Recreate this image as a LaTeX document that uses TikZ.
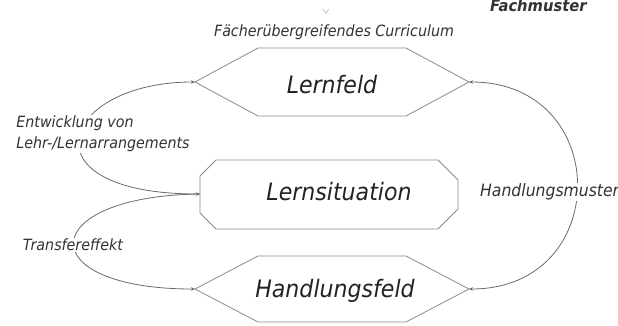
\documentclass[tikz,border=0pt]{standalone}
\usepackage{fontspec}
\newfontfamily\labfont[FakeStretch=0.92]{DejaVu Sans}
\usetikzlibrary{arrows.meta}
\definecolor{txt}{HTML}{333333}
\definecolor{bigtxt}{HTML}{222222}
\definecolor{shp}{HTML}{8A8A8A}
\definecolor{con}{HTML}{6A6A6A}
\tikzset{
  biglab/.style={font=\labfont\itshape\fontsize{24}{28}\selectfont, text=bigtxt},
  smalllab/.style={font=\labfont\itshape\fontsize{15.5}{21}\selectfont, text=txt, fill=white, inner sep=1pt, align=left},
  shapeline/.style={draw=shp, line width=0.8pt, line join=miter},
  conn/.style={draw=con, line width=0.8pt},
  tipb/.style={{Stealth[length=4pt,width=3.5pt]}-{Stealth[length=4pt,width=3.5pt]}},
  tipe/.style={-{Stealth[length=4pt,width=3.5pt]}},
}
\begin{document}
\begin{tikzpicture}[x=1pt,y=-1pt]
\useasboundingbox (0,0) rectangle (618,325);
% anchor points of the shapes
\coordinate (lfW) at (195,82);
\coordinate (lfE) at (469,82);
\coordinate (lsW) at (200,194);
\coordinate (lsE) at (458,194);
\coordinate (hfW) at (195,289);
\coordinate (hfE) at (469,289);
% shapes
\draw[shapeline] (lfW) -- (258,48) -- (406,48) -- (lfE) -- (406,116) -- (258,116) -- cycle;
\draw[shapeline] (200,176) -- (216,160) -- (438,160) -- (458,180) -- (458,209) -- (438,229) -- (216,229) -- (200,213) -- cycle;
\draw[shapeline] (hfW) -- (258,256) -- (406,256) -- (hfE) -- (406,322) -- (258,322) -- cycle;
% texts in shapes
\node[biglab] (lf) at (332,85) {Lernfeld};
\node[biglab] (ls) at (339,192) {Lernsituation};
\node[biglab] (hf) at (335,291) {Handlungsfeld};
% connectors
\draw[conn, tipb] (lfW) .. controls (60,82) and (20,194) .. (lsW);
\draw[conn, tipe] (lsW) .. controls (35,196) and (30,289) .. (hfW);
\draw[conn, tipb] (lfE) .. controls (613,82) and (613,289) .. (hfE);
% labels
\node[smalllab] (ent) at (103,134) {Entwicklung von\\Lehr-/Lernarrangements};
\node[smalllab] (tr) at (73,245) {Transfereffekt};
\node[smalllab, anchor=west, font=\labfont\itshape\fontsize{17}{21}\selectfont] (hm) at (479,192) {Handlungsmuster};
\node[smalllab] (fc) at (334,32) {Fächerübergreifendes Curriculum};
\node[smalllab, anchor=base west, fill=none, font=\labfont\bfseries\itshape\fontsize{16}{20}\selectfont] (fm) at (489,11) {Fachmuster};
\draw[gray!60, line width=0.6pt] (323,9) -- (326,13) -- (329,9);
\end{tikzpicture}
\end{document}
